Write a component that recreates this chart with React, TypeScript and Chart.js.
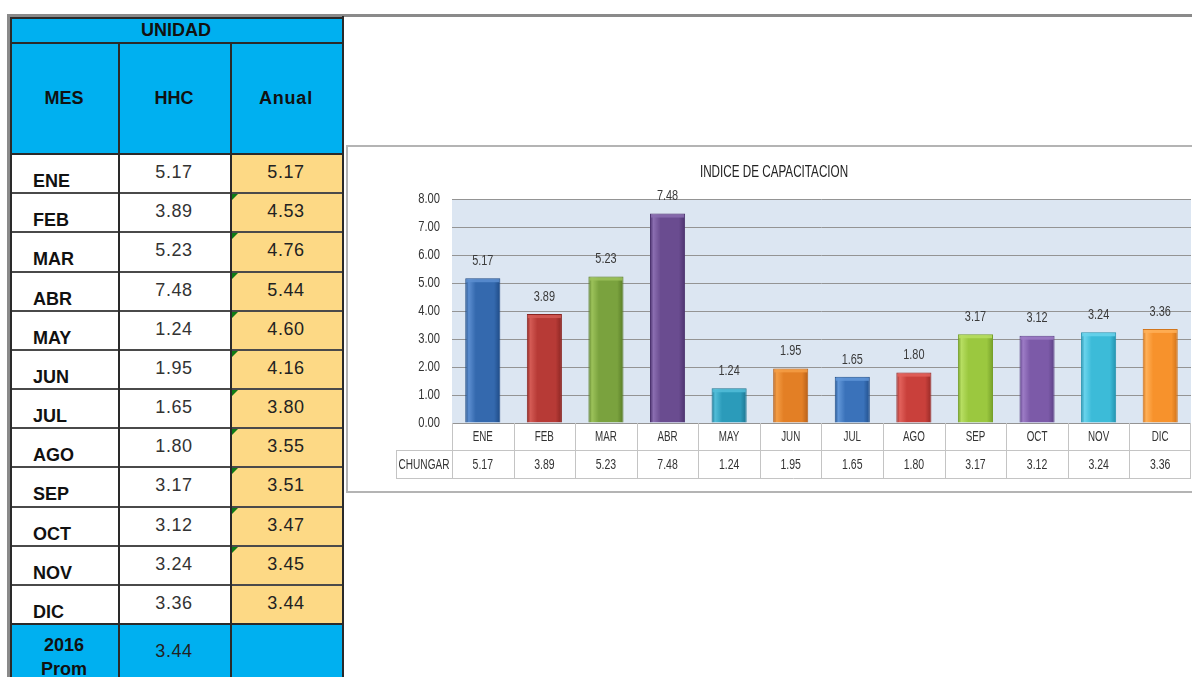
import React, { useEffect, useRef } from 'react';
import { Chart, registerables } from 'chart.js';

Chart.register(...registerables);

// ---------- DATA ----------
const months = ['ENE', 'FEB', 'MAR', 'ABR', 'MAY', 'JUN', 'JUL', 'AGO', 'SEP', 'OCT', 'NOV', 'DIC'];
const hhcValues = [5.17, 3.89, 5.23, 7.48, 1.24, 1.95, 1.65, 1.8, 3.17, 3.12, 3.24, 3.36];
const anualValues = [5.17, 4.53, 4.76, 5.44, 4.6, 4.16, 3.8, 3.55, 3.51, 3.47, 3.45, 3.44];
const promYear = '2016';
const promLabel = 'Prom';
const promValue = 3.44;
const tableTitle = 'UNIDAD';
const tableHeaders = ['MES', 'HHC', 'Anual'];
const seriesName = 'CHUNGAR';
const chartTitle = 'INDICE DE CAPACITACION';
const yTickValues = [0, 1, 2, 3, 4, 5, 6, 7, 8];
const commentFlags = [false, true, true, true, true, true, true, true, true, true, true, false];

// bar colours (base, dark edge, light bevel)
const barColors = [
  { base: '#3469AE', dark: '#1E4A85', light: '#5C8ED0' },
  { base: '#B73A36', dark: '#8A2522', light: '#D45B55' },
  { base: '#7AA23E', dark: '#587C27', light: '#9CC25A' },
  { base: '#6A4C90', dark: '#4C336F', light: '#8A6DB0' },
  { base: '#2B9BBA', dark: '#1C7490', light: '#52BDD8' },
  { base: '#E37F25', dark: '#B6601A', light: '#F49D45' },
  { base: '#3A72BA', dark: '#214F8B', light: '#6297D8' },
  { base: '#C9403B', dark: '#962A27', light: '#E2625C' },
  { base: '#9BC83F', dark: '#76A02A', light: '#B7DE62' },
  { base: '#7C5AA8', dark: '#5A3F84', light: '#9D7CC6' },
  { base: '#3CBBD8', dark: '#2392AE', light: '#6AD3EC' },
  { base: '#F7922C', dark: '#CF7219', light: '#FFB058' },
];

const FONT_TABLE = "'Liberation Sans', Arial, sans-serif";
const FONT_CHART = "'Liberation Sans', Arial, sans-serif";
const BAR_FRACTION = 0.57;

function Box(props: { x: number; y: number; w: number; h: number; c: string }) {
  return (
    <div
      style={{
        position: 'absolute',
        left: props.x,
        top: props.y,
        width: props.w,
        height: props.h,
        background: props.c,
      }}
    />
  );
}

function Txt(props: {
  x: number;
  y: number;
  w: number;
  h: number;
  text: string;
  bold?: boolean;
  size?: number;
  align?: 'left' | 'center';
  spacing?: number;
  color?: string;
}) {
  return (
    <div
      style={{
        position: 'absolute',
        left: props.x,
        top: props.y,
        width: props.w,
        height: props.h,
        lineHeight: props.h + 'px',
        textAlign: props.align || 'center',
        fontFamily: FONT_TABLE,
        fontWeight: props.bold ? 'bold' : 'normal',
        fontSize: props.size || 15,
        letterSpacing: props.spacing || 0,
        color: props.color || '#111',
        whiteSpace: 'nowrap',
      }}
    >
      {props.text}
    </div>
  );
}

function LeftTable() {
  const L = 10;
  const C1 = 118;
  const C2 = 230;
  const R = 342;
  const TOP = 17;
  const H1 = 42;
  const H2 = 153;
  const RH = 39.17;
  const promTop = H2 + months.length * RH;
  const dark = '#2a2a2a';
  const mid = '#4a4a4a';
  const els: any[] = [];

  els.push(<Box key="cy1" x={L} y={TOP} w={R - L} h={H2 - TOP} c="#00B0F0" />);
  els.push(<Box key="cy2" x={L} y={promTop} w={R - L} h={677 - promTop} c="#00B0F0" />);
  els.push(<Box key="yel" x={C2} y={H2} w={R - C2} h={promTop - H2} c="#FDD985" />);

  els.push(<Box key="gtop" x={7} y={14} w={1192 - 7} h={3} c="#8A8A8A" />);
  els.push(<Box key="gleft" x={7} y={14} w={3} h={677 - 14} c="#8A8A8A" />);

  els.push(<Box key="h0" x={L} y={TOP} w={R - L + 1} h={2} c={dark} />);
  els.push(<Box key="h1" x={L} y={H1} w={R - L + 1} h={2} c={dark} />);
  els.push(<Box key="h2" x={L} y={H2} w={R - L + 1} h={2} c={dark} />);
  for (let i = 1; i <= months.length; i++) {
    const y = Math.round(H2 + i * RH);
    els.push(<Box key={'hr' + i} x={L} y={y} w={R - L + 1} h={2} c={i === months.length ? dark : mid} />);
  }
  els.push(<Box key="v0" x={L} y={TOP} w={2} h={677 - TOP} c={dark} />);
  els.push(<Box key="v1" x={C1} y={H1} w={2} h={677 - H1} c={dark} />);
  els.push(<Box key="v2" x={C2} y={H1} w={2} h={677 - H1} c={dark} />);
  els.push(<Box key="v3" x={R} y={TOP - 1} w={2} h={677 - TOP + 1} c={dark} />);

  els.push(<Txt key="ttl" x={L} y={TOP + 1} w={R - L} h={24} text={tableTitle} bold size={18} />);
  els.push(<Txt key="hd0" x={L} y={86} w={C1 - L} h={24} text={tableHeaders[0]} bold size={18} />);
  els.push(<Txt key="hd1" x={C1} y={86} w={C2 - C1} h={24} text={tableHeaders[1]} bold size={18} />);
  els.push(<Txt key="hd2" x={C2} y={86} w={R - C2} h={24} text={tableHeaders[2]} bold size={18} spacing={0.8} />);

  months.forEach((m, i) => {
    const top = H2 + i * RH;
    els.push(<Txt key={'m' + i} x={33} y={top + 17} w={80} h={22} text={m} bold size={18} align="left" />);
    els.push(
      <Txt key={'v' + i} x={C1} y={top + 8} w={C2 - C1} h={22} text={hhcValues[i].toFixed(2)} size={18} spacing={0.6} color="#333" />
    );
    els.push(
      <Txt key={'a' + i} x={C2} y={top + 8} w={R - C2} h={22} text={anualValues[i].toFixed(2)} size={18} spacing={0.6} color="#222" />
    );
    if (commentFlags[i]) {
      els.push(
        <div
          key={'tri' + i}
          style={{
            position: 'absolute',
            left: C2 + 2,
            top: Math.round(top) + 2,
            width: 0,
            height: 0,
            borderTop: '6px solid #0E7A16',
            borderRight: '6px solid transparent',
          }}
        />
      );
    }
  });

  els.push(<Txt key="py" x={L} y={promTop + 11} w={C1 - L} h={22} text={promYear} bold size={18} />);
  els.push(<Txt key="pl" x={L} y={promTop + 35} w={C1 - L} h={22} text={promLabel} bold size={18} />);
  els.push(<Txt key="pv" x={C1} y={promTop + 17} w={C2 - C1} h={22} text={promValue.toFixed(2)} size={18} spacing={0.6} color="#222" />);

  return <>{els}</>;
}

function drawCondensed(
  ctx: CanvasRenderingContext2D,
  text: string,
  x: number,
  y: number,
  size: number,
  align: CanvasTextAlign,
  sx: number,
  color: string
) {
  ctx.save();
  ctx.font = `${size}px ${FONT_CHART}`;
  ctx.fillStyle = color;
  ctx.textAlign = align;
  ctx.textBaseline = 'middle';
  ctx.translate(x, y);
  ctx.scale(sx, 1);
  ctx.fillText(text, 0, 0);
  ctx.restore();
}

function ChartBox() {
  const ref = useRef<HTMLCanvasElement>(null);

  useEffect(() => {
    const canvas = ref.current;
    if (!canvas) return;

    const plotBg = {
      id: 'plotBg',
      beforeDraw(chart: any) {
        const { ctx, chartArea: a } = chart;
        ctx.save();
        ctx.fillStyle = '#DCE6F2';
        ctx.fillRect(a.left, a.top, a.right - a.left, a.bottom - a.top);
        ctx.restore();
      },
    };

    const barDecor = {
      id: 'barDecor',
      afterDatasetsDraw(chart: any) {
        const { ctx } = chart;
        const meta = chart.getDatasetMeta(0);
        ctx.save();
        meta.data.forEach((bar: any, i: number) => {
          const col = barColors[i % barColors.length];
          const w = bar.width;
          ctx.fillStyle = col.light;
          ctx.globalAlpha = 0.85;
          ctx.fillRect(bar.x - w / 2 + 1, bar.y + 1, w - 2, 3);
          ctx.globalAlpha = 1;
        });
        ctx.restore();
        meta.data.forEach((bar: any, i: number) => {
          drawCondensed(ctx, hhcValues[i].toFixed(2), bar.x, bar.y - 17, 14, 'center', 0.78, '#3a3a3a');
        });
      },
    };

    const texts = {
      id: 'texts',
      afterDraw(chart: any) {
        const { ctx, chartArea: a } = chart;
        const xs = chart.scales.x;
        const ys = chart.scales.y;
        const n = months.length;
        const colW = (a.right - a.left) / n;
        const r1Top = a.bottom;
        const r1Bot = a.bottom + 27;
        const r2Bot = a.bottom + 55;
        const labelLeft = 48;
        const px = (v: number) => Math.round(v) + 0.5;

        // title
        drawCondensed(ctx, chartTitle, chart.width / 2 + 4, 26, 16, 'center', 0.73, '#222');

        // y tick labels
        yTickValues.forEach((v) => {
          drawCondensed(ctx, v.toFixed(2), a.left - 12, ys.getPixelForValue(v), 14, 'right', 0.8, '#333');
        });

        // data table
        ctx.save();
        ctx.strokeStyle = '#C4C4C4';
        ctx.lineWidth = 1;
        ctx.beginPath();
        ctx.moveTo(labelLeft, px(r1Bot));
        ctx.lineTo(a.right, px(r1Bot));
        ctx.moveTo(labelLeft, px(r2Bot));
        ctx.lineTo(a.right, px(r2Bot));
        ctx.moveTo(px(labelLeft), px(r1Bot));
        ctx.lineTo(px(labelLeft), px(r2Bot));
        for (let k = 0; k <= n; k++) {
          const x = k < n ? xs.getPixelForValue(k) - colW / 2 : a.right - 1;
          ctx.moveTo(px(x), r1Top);
          ctx.lineTo(px(x), px(r2Bot));
        }
        ctx.stroke();
        ctx.restore();

        months.forEach((m, i) => {
          const x = xs.getPixelForValue(i);
          drawCondensed(ctx, m, x, (r1Top + r1Bot) / 2 + 1, 14, 'center', 0.7, '#333');
          drawCondensed(ctx, hhcValues[i].toFixed(2), x, (r1Bot + r2Bot) / 2 + 1, 14, 'center', 0.75, '#333');
        });
        drawCondensed(ctx, seriesName, (labelLeft + a.left) / 2, (r1Bot + r2Bot) / 2 + 1, 14, 'center', 0.72, '#333');
      },
    };

    const chart = new Chart(canvas, {
      type: 'bar',
      data: {
        labels: months,
        datasets: [
          {
            label: seriesName,
            data: hhcValues,
            backgroundColor: (c: any) => {
              const i = c.dataIndex;
              const col = barColors[(i || 0) % barColors.length];
              const ch = c.chart;
              const xs = ch.scales && ch.scales.x;
              if (i === undefined || !xs || !ch.chartArea) return col.base;
              const cx = xs.getPixelForValue(i);
              const w = ((ch.chartArea.right - ch.chartArea.left) / months.length) * BAR_FRACTION;
              const g = ch.ctx.createLinearGradient(cx - w / 2, 0, cx + w / 2, 0);
              g.addColorStop(0, col.dark);
              g.addColorStop(0.1, col.light);
              g.addColorStop(0.3, col.base);
              g.addColorStop(0.82, col.base);
              g.addColorStop(1, col.dark);
              return g;
            },
            borderColor: (c: any) => barColors[(c.dataIndex || 0) % barColors.length].dark,
            borderWidth: 1,
            barPercentage: BAR_FRACTION,
            categoryPercentage: 1,
          },
        ],
      },
      options: {
        responsive: false,
        animation: false,
        devicePixelRatio: 1,
        layout: { padding: { left: 0, right: 1, top: 52, bottom: 68 } },
        plugins: {
          legend: { display: false },
          tooltip: { enabled: false },
          title: { display: false },
        },
        scales: {
          x: {
            display: false,
          },
          y: {
            min: yTickValues[0],
            max: yTickValues[yTickValues.length - 1],
            afterBuildTicks: (s: any) => {
              s.ticks = yTickValues.map((v) => ({ value: v }));
            },
            afterFit: (s: any) => {
              s.width = 104;
            },
            ticks: { display: false },
            grid: { color: '#949494', drawTicks: false },
            border: { display: false },
          },
        },
      },
      plugins: [plotBg, barDecor, texts],
    } as any);

    return () => chart.destroy();
  }, []);

  return (
    <canvas
      ref={ref}
      width={844}
      height={344}
      style={{ position: 'absolute', left: 348, top: 147, width: 844, height: 344 }}
    />
  );
}

export default function App() {
  return (
    <div
      style={{
        position: 'absolute',
        left: 0,
        top: 0,
        width: 1192,
        height: 677,
        overflow: 'hidden',
        background: '#fff',
      }}
    >
      <LeftTable />
      <div
        style={{
          position: 'absolute',
          left: 346,
          top: 145,
          width: 1000,
          height: 348,
          boxSizing: 'border-box',
          border: '2px solid #B4B4B4',
        }}
      />
      <ChartBox />
    </div>
  );
}
